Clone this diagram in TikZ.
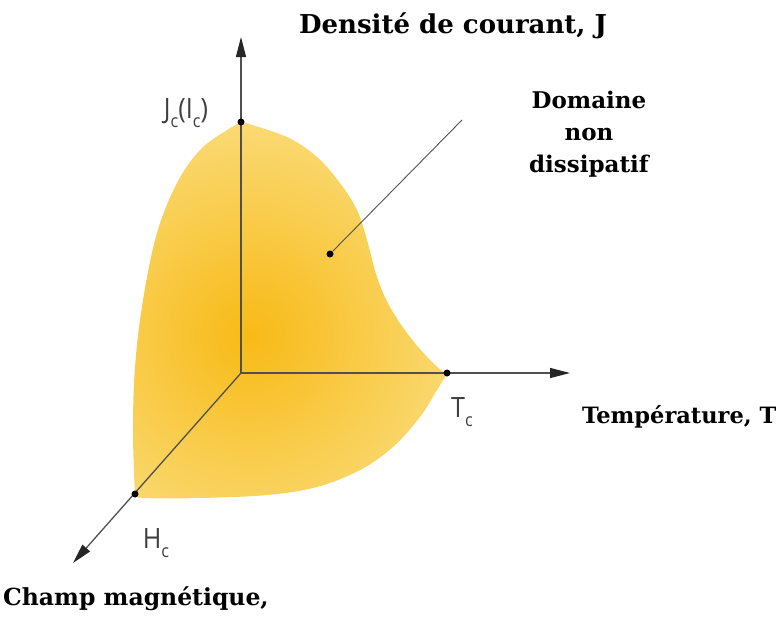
\documentclass[tikz,border=0pt]{standalone}
\usepackage{fontspec}
\setmainfont{DejaVu Serif}
\newfontfamily\lblsans{Open Sans}
\usetikzlibrary{arrows.meta}
\definecolor{axisgray}{RGB}{80,80,80}
\definecolor{goldin}{RGB}{248,186,22}
\definecolor{goldout}{RGB}{250,222,128}
\newcommand{\subc}{\raisebox{-0.3em}{\fontsize{18}{18}\selectfont c}}
\begin{document}
\begin{tikzpicture}[x=1pt,y=-1pt,
  axis/.style={draw=axisgray,line width=1.3pt,-{Triangle[length=20pt,width=10pt,color=black!85]}},
  dot/.style={circle,fill=black,inner sep=0pt,minimum size=7pt},
  title/.style={font=\fontsize{#1}{32}\selectfont\bfseries,text=black,inner sep=0pt},
  small/.style={font=\lblsans\fontsize{28}{30}\selectfont,text=black!75,inner sep=0pt}]
\useasboundingbox (0,0) rectangle (784,616);

% shaded domain
\begin{scope}
\clip plot[smooth,tension=0.6] coordinates {(242,122) (287,137) (317,157) (340,183) (357,210) (367,240) (377,277) (390,307) (410,337) (433,363) (447,374)}
  -- plot[smooth,tension=0.6] coordinates {(447,374) (437,390) (420,417) (393,447) (360,470) (317,487) (267,495) (200,498) (143,498) (135,495)}
  -- plot[smooth,tension=0.6] coordinates {(135,495) (133,433) (135,367) (143,300) (157,233) (177,183) (200,150) (227,130) (242,122)}
  -- cycle;
\shade[inner color=goldin,outer color=goldout] (250,335) circle (240);
\end{scope}

% origin and axis ends
\coordinate (O) at (241,373);
\coordinate (Jtop) at (241,37);
\coordinate (Tend) at (570,373);
\coordinate (Hend) at (73,563);

\draw[axis] (O) -- (Jtop);
\draw[axis] (O) -- (Tend);
\draw[axis] (O) -- (Hend);

% points
\node[dot] (jc) at (241,122) {};
\node[dot] (tc) at (447,373) {};
\node[dot] (hc) at (135,494) {};
\node[dot] (dom) at (330,254) {};
\coordinate (lead) at (462,120);
\draw[axisgray,line width=0.9pt] (dom) -- (lead);

% labels
\node[title=26,anchor=base] (jlab) at (453,33) {Densité de courant, J};
\node[title=23,align=center] (domlab) at (589,134) {Domaine\\non\\dissipatif};
\node[title=22.5,anchor=base west] (tlab) at (582,423) {Température, T};
\node[title=23.5,anchor=base west] (hlab) at (3,605) {Champ magnétique,};

\node[small] (jclab) at (186,113) {\scalebox{0.9}[1]{J\subc(I\subc)}};
\node[small] (tclab) at (462,412) {\scalebox{0.9}[1]{T\subc}};
\node[small] (hclab) at (156,543) {\scalebox{0.9}[1]{H\subc}};
\end{tikzpicture}
\end{document}
